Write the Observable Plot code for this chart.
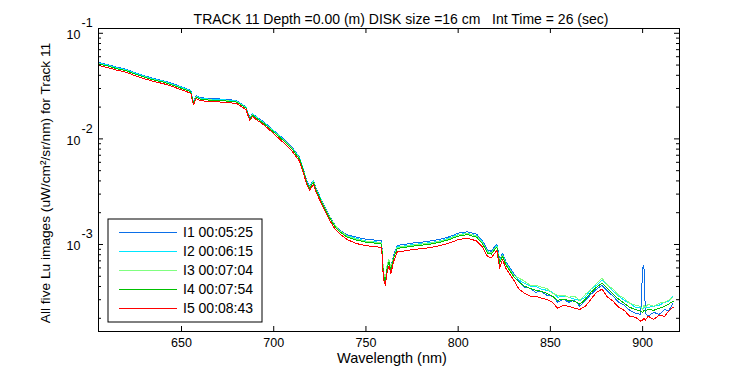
<!DOCTYPE html>
<html><head><meta charset="utf-8">
<script src="https://cdn.jsdelivr.net/npm/d3@7"></script>
<script src="https://cdn.jsdelivr.net/npm/@observablehq/plot@0.6"></script>
<style>
html,body{margin:0;padding:0;background:#fff;}
svg{display:block;}
svg text{white-space:pre;}
</style></head><body><div id="chart"></div>
<script>
const wavelengths = [605,610,615,620,625,630,635,640,645,650,655,656.5,658,660,665,670,675,680,685,687,688.5,690,695,700,
  705,710,714,716,718,719.5,721.5,723,726,730,733,736,740,
  745,750,755,758.5,759.5,760.5,761.5,762.5,763.5,765,767,770,775,780,785,790,795,800,805,810,813,816,818,820,821,822.5,824,826,830,
  833,836,839,842,845,848,851,854,857,860,863,866,869,872,875,878,881,884,887,890,893,896,899,900,900.7,901.5,903,906,909,912,914,916.5];

const I1 = [0.0529,0.0506,0.0477,0.0457,0.0422,0.0396,0.0373,0.0356,0.0335,0.0311,0.0289,0.0224,0.0257,0.0246,0.0241,0.0239,0.0236,0.0230,0.0201,0.0159,0.0174,0.0165,0.0143,0.0120,
  0.01013,0.00832,0.00669,0.00526,0.00396,0.00356,0.00406,0.00340,0.00262,0.00189,0.00155,0.00136,0.00123,
  0.00117,0.00112,0.00110,0.00108,0.000540,0.000470,0.000620,0.000700,0.000610,0.000792,0.000984,0.000994,0.00103,0.00105,0.00108,0.00112,0.00118,0.00128,0.00132,0.00125,0.00110,0.000882,0.000863,0.000962,0.00101,0.000710,0.000827,0.000680,0.000535,
  4.49e-4,3.94e-4,3.85e-4,3.53e-4,3.61e-4,3.31e-4,3.24e-4,2.84e-4,3.03e-4,2.84e-4,2.96e-4,2.60e-4,2.96e-4,3.38e-4,3.77e-4,4.11e-4,3.61e-4,3.24e-4,2.84e-4,2.66e-4,2.38e-4,2.23e-4,2.18e-4,5.96e-4,6.37e-4,2.23e-4,2.09e-4,2.28e-4,2.18e-4,2.43e-4,2.33e-4,2.78e-4];

const I2 = [0.0523,0.0501,0.0472,0.0452,0.0418,0.0391,0.0369,0.0353,0.0331,0.0308,0.0286,0.0222,0.0254,0.0243,0.0238,0.0236,0.0233,0.0228,0.0199,0.0157,0.0172,0.0164,0.0141,0.0119,
  0.00998,0.00820,0.00659,0.00519,0.00391,0.00351,0.00400,0.00335,0.00258,0.00187,0.00153,0.00134,0.00121,
  0.00114,0.00108,0.00106,0.00104,0.000530,0.000455,0.000610,0.000690,0.000590,0.000767,0.000952,0.000963,0.000995,0.00102,0.00104,0.00108,0.00115,0.00124,0.00128,0.00121,0.00106,0.000854,0.000836,0.000932,0.000974,0.000687,0.000801,0.000658,0.000518,
  4.59e-4,4.30e-4,4.03e-4,4.03e-4,3.77e-4,3.69e-4,3.53e-4,3.17e-4,3.24e-4,3.17e-4,3.03e-4,2.96e-4,3.17e-4,3.77e-4,4.11e-4,4.59e-4,4.11e-4,3.61e-4,3.24e-4,2.96e-4,2.78e-4,2.54e-4,2.54e-4,2.43e-4,2.49e-4,2.54e-4,2.54e-4,2.60e-4,2.66e-4,2.84e-4,2.90e-4,3.24e-4];

const I3 = [0.0515,0.0492,0.0464,0.0444,0.0411,0.0385,0.0363,0.0347,0.0326,0.0303,0.0281,0.0218,0.0250,0.0239,0.0234,0.0232,0.0229,0.0224,0.0196,0.0155,0.0169,0.0161,0.0139,0.0117,
  0.00984,0.00808,0.00649,0.00511,0.00385,0.00345,0.00394,0.00330,0.00255,0.00186,0.00153,0.00134,0.00120,
  0.00112,0.00107,0.00105,0.00103,0.000560,0.000460,0.000640,0.000720,0.000600,0.000758,0.000942,0.000952,0.000984,0.00101,0.00103,0.00107,0.00113,0.00123,0.00127,0.00120,0.00105,0.000845,0.000827,0.000922,0.000964,0.000680,0.000792,0.000651,0.000512,
  4.80e-4,4.49e-4,4.11e-4,4.11e-4,3.94e-4,3.85e-4,3.46e-4,3.31e-4,3.31e-4,3.17e-4,3.24e-4,2.96e-4,3.38e-4,3.77e-4,4.30e-4,4.80e-4,4.11e-4,3.77e-4,3.31e-4,3.10e-4,2.78e-4,2.66e-4,2.60e-4,2.43e-4,2.66e-4,2.54e-4,2.72e-4,2.60e-4,2.78e-4,2.84e-4,2.96e-4,3.17e-4];

const I4 = [0.0512,0.0490,0.0462,0.0442,0.0409,0.0383,0.0361,0.0345,0.0324,0.0301,0.0280,0.0217,0.0249,0.0238,0.0233,0.0231,0.0228,0.0223,0.0195,0.0154,0.0168,0.0160,0.0138,0.0116,
  0.00974,0.00800,0.00643,0.00506,0.00381,0.00342,0.00390,0.00327,0.00252,0.00182,0.00149,0.00131,0.00117,
  0.00110,0.00105,0.00103,0.00101,0.000512,0.000439,0.000596,0.000680,0.000571,0.000742,0.000922,0.000932,0.000963,0.000985,0.00101,0.00105,0.00111,0.00120,0.00124,0.00117,0.00103,0.000827,0.000809,0.000902,0.000943,0.000665,0.000775,0.000637,0.000501,
  4.39e-4,4.03e-4,3.85e-4,3.69e-4,3.61e-4,3.46e-4,3.24e-4,2.96e-4,3.03e-4,2.96e-4,2.90e-4,2.72e-4,3.03e-4,3.53e-4,3.94e-4,4.30e-4,3.85e-4,3.38e-4,3.03e-4,2.78e-4,2.54e-4,2.43e-4,2.33e-4,2.28e-4,2.38e-4,2.33e-4,2.43e-4,2.38e-4,2.49e-4,2.60e-4,2.72e-4,2.90e-4];

const I5 = [0.0496,0.0474,0.0447,0.0428,0.0396,0.0371,0.0349,0.0334,0.0314,0.0291,0.0271,0.0210,0.0241,0.0230,0.0226,0.0224,0.0221,0.0216,0.0189,0.0149,0.0163,0.0155,0.0134,0.0112,
  0.00930,0.00764,0.00614,0.00483,0.00364,0.00327,0.00372,0.00312,0.00241,0.00174,0.00142,0.00125,0.00111,
  0.00102,0.000973,0.000955,0.000936,0.000470,0.000411,0.000550,0.000620,0.000530,0.000688,0.000855,0.000864,0.000893,0.000913,0.000936,0.000973,0.00103,0.00111,0.00115,0.00108,0.000955,0.000767,0.000750,0.000836,0.000874,0.000596,0.000718,0.000590,0.000464,
  3.77e-4,3.46e-4,3.24e-4,3.24e-4,3.10e-4,3.03e-4,2.84e-4,2.49e-4,2.66e-4,2.60e-4,2.49e-4,2.43e-4,2.60e-4,3.03e-4,3.53e-4,3.77e-4,3.17e-4,2.90e-4,2.54e-4,2.38e-4,2.09e-4,2.05e-4,1.88e-4,1.92e-4,2.00e-4,1.92e-4,2.09e-4,1.96e-4,2.14e-4,2.09e-4,2.33e-4,2.54e-4];

const seriesNames = ["I1 00:05:25","I2 00:06:15","I3 00:07:04","I4 00:07:54","I5 00:08:43"];
const seriesColors = ["#0b6fe8","#00e6ff","#80ff80","#00c000","#ff0000"];
const xTicks = [650,700,750,800,850,900];
const yMajor = [0.001,0.01,0.1];
const yExponents = ["-3","-2","-1"];
const yMinor = [2e-4,3e-4,4e-4,5e-4,6e-4,7e-4,8e-4,9e-4,2e-3,3e-3,4e-3,5e-3,6e-3,7e-3,8e-3,9e-3,2e-2,3e-2,4e-2,5e-2,6e-2,7e-2,8e-2,9e-2];
const titleText = "TRACK 11 Depth =0.00 (m) DISK size =16 cm   Int Time = 26 (sec)";
const xLabel = "Wavelength (nm)";
const yLabel = "All five Lu images (uW/cm\u00B2/sr/nm) for Track 11";

const seriesValues = [I1,I2,I3,I4,I5];
const rows = seriesValues.flatMap((vals, s) => vals.map((v, i) => ({wl: wavelengths[i], value: v, series: seriesNames[s]})));

const W = 750, H = 375, mL = 98, mR = 71, mT = 28, mB = 44;
const plotH = H - mT - mB;
const plotW = W - mL - mR;
const font = "'Liberation Sans', Arial, Helvetica, sans-serif";

const chart = Plot.plot({
  width: W, height: H, marginLeft: mL, marginRight: mR, marginTop: mT, marginBottom: mB,
  style: {fontFamily: font, fontSize: "14px", background: "white", color: "black", overflow: "visible"},
  x: {domain: [605, 920], axis: null},
  y: {type: "log", domain: [1.5e-4, 0.111], axis: null},
  color: {domain: seriesNames, range: seriesColors},
  marks: [
    Plot.line(rows, {x: "wl", y: "value", z: "series", stroke: "series", strokeWidth: 1, shapeRendering: "crispEdges"}),
    Plot.frame({stroke: "black"}),
    Plot.tickX(xTicks, {x: d => d, insetTop: plotH - 5}),
    Plot.tickX(xTicks, {x: d => d, insetBottom: plotH - 5}),
    Plot.tickY(yMajor, {y: d => d, insetRight: plotW - 5}),
    Plot.tickY(yMajor, {y: d => d, insetLeft: plotW - 5}),
    Plot.tickY(yMinor, {y: d => d, insetRight: plotW - 3}),
    Plot.tickY(yMinor, {y: d => d, insetLeft: plotW - 3}),
    Plot.text(xTicks, {x: d => d, text: d => String(d), frameAnchor: "bottom", dy: 15, fontSize: 12.5}),
    Plot.text(yMajor, {y: d => d, text: () => "10", frameAnchor: "left", dx: -18, dy: 2, textAnchor: "end", fontSize: 12.5}),
    Plot.text(yMajor, {y: d => d, text: (d, i) => yExponents[i], frameAnchor: "left", dx: -17, dy: -10, textAnchor: "start", fontSize: 12.5}),
    Plot.text([titleText], {text: d => d, frameAnchor: "top", dy: -14.5, dx: 12, textAnchor: "middle", fontSize: 14}),
    Plot.text([xLabel], {text: d => d, frameAnchor: "bottom", dy: 31, dx: 3, textAnchor: "middle", fontSize: 14.5}),
    Plot.text([yLabel], {text: d => d, frameAnchor: "left", dx: -53, dy: 3, rotate: -90, textAnchor: "middle", fontSize: 13.7})
  ]
});

// legend box (MATLAB-style, inside the axes)
const svg = d3.select(chart);
const lg = svg.append("g").attr("font-family", font).attr("font-size", 14).attr("text-anchor", "start");
lg.append("rect").attr("x", 108).attr("y", 219).attr("width", 154).attr("height", 103)
  .attr("fill", "white").attr("stroke", "black");
seriesNames.forEach((name, i) => {
  const y = 232 + 19 * i;
  lg.append("line").attr("x1", 119).attr("x2", 177).attr("y1", y).attr("y2", y)
    .attr("stroke", seriesColors[i]).attr("stroke-width", 1).attr("shape-rendering", "crispEdges");
  lg.append("text").attr("x", 183).attr("y", y).attr("dy", "0.35em")
    .attr("text-anchor", "start").attr("fill", "black").text(name);
});

document.getElementById("chart").appendChild(chart);
</script>
</body></html>
